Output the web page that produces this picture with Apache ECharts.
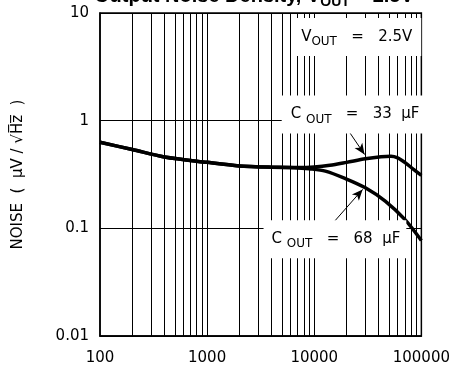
<!DOCTYPE html>
<html><head><meta charset="utf-8">
<script src="https://cdn.jsdelivr.net/npm/echarts@6/dist/echarts.min.js"></script>
<style>html,body{margin:0;padding:0;background:#fff}#c{width:453px;height:373px}</style>
</head><body><div id="c"></div>
<script>
// Data
var freq33 = [100, 200, 400, 1000, 2000, 4000, 7000, 10000, 14000, 20000, 30000, 42000, 52000, 60000, 70000, 84000, 100000];
var noise33 = [0.63, 0.54, 0.46, 0.41, 0.38, 0.37, 0.368, 0.372, 0.385, 0.41, 0.443, 0.463, 0.468, 0.452, 0.41, 0.355, 0.31];
var freq68 = [100, 200, 400, 1000, 2000, 4000, 6500, 9000, 12700, 19500, 30000, 46000, 70000, 100000];
var noise68 = [0.63, 0.54, 0.46, 0.41, 0.38, 0.37, 0.366, 0.357, 0.34, 0.29, 0.238, 0.179, 0.121, 0.077];
var gridFreqs = [200,300,400,500,600,700,800,900,1000,2000,3000,4000,5000,6000,7000,8000,9000,10000,20000,30000,40000,50000,60000,70000,80000,90000];
var xTicks = [100, 1000, 10000, 100000];
var yTicks = [0.01, 0.1, 1, 10];

var FONT = 'DejaVu Sans';
function pairs(xs, ys){ return xs.map(function(x,i){ return [x, ys[i]]; }); }
var sub = {fontSize: 12, fontFamily: FONT, color: '#000', padding: [10, 0, 0, 0]};
var txt = {fontSize: 15, fontFamily: FONT, color: '#000'};

var chart = echarts.init(document.getElementById('c'));
chart.setOption({
  animation: false,
  title: {
    text: 'Output Noise Density, V{s|OUT} = 2.5V',
    left: 89, top: -22,
    textStyle: {fontSize: 20, fontWeight: 'bold', fontFamily: 'Liberation Sans', color: '#000',
      rich: {s: {fontSize: 14, fontWeight: 'bold', fontFamily: 'Liberation Sans', padding: [12,0,0,0]}}}
  },
  grid: {left: 100, right: 30, top: 13, bottom: 37, show: true, borderColor: '#000', borderWidth: 1.5},
  xAxis: {
    type: 'log', logBase: 10, min: 100, max: 100000,
    axisLine: {show: true, lineStyle: {color: '#000', width: 1.5}},
    axisTick: {show: false},
    splitLine: {show: false},
    axisLabel: {fontSize: 15, fontFamily: FONT, color: '#000', margin: 15,
      formatter: function(v){ return xTicks.indexOf(v) >= 0 ? String(v) : ''; }}
  },
  yAxis: {
    type: 'log', logBase: 10, min: 0.01, max: 10,
    name: 'NOISE  (  µV / √H\u0305z\u0305  )',
    nameLocation: 'middle', nameGap: 74, nameRotate: 90,
    nameTextStyle: {fontSize: 15, fontFamily: FONT, color: '#000'},
    axisLine: {show: true, lineStyle: {color: '#000', width: 1.5}},
    axisTick: {show: false},
    splitLine: {show: true, lineStyle: {color: '#000', width: 1}},
    axisLabel: {fontSize: 15, fontFamily: FONT, color: '#000', margin: 11,
      formatter: function(v){ var r = yTicks.filter(function(t){ return Math.abs(t - v) / t < 1e-6; }); return r.length ? String(r[0]) : ''; }}
  },
  series: [
    {
      type: 'line', data: [], silent: true, z: 1,
      markLine: {silent: true, symbol: ['none','none'], label: {show: false},
        lineStyle: {color: '#000', width: 1, type: 'solid'},
        data: gridFreqs.map(function(f){ return {xAxis: f}; })}
    },
    {
      name: 'COUT = 33 µF', type: 'line', data: pairs(freq33, noise33), smooth: 0.3, showSymbol: false, z: 3,
      lineStyle: {color: '#000', width: 3.5}
    },
    {
      name: 'COUT = 68 µF', type: 'line', data: pairs(freq68, noise68), smooth: 0.3, showSymbol: false, z: 3,
      lineStyle: {color: '#000', width: 3.5}
    },
    {
      type: 'line', data: [], silent: true, z: 5,
      markPoint: {
        symbol: 'rect', symbolSize: 0, silent: true,
        label: {show: true, position: 'inside', backgroundColor: '#fff', fontSize: 15, fontFamily: FONT, color: '#000',
          rich: {s: sub, t: txt}},
        data: [
          {coord: [24900, 6.0], label: {formatter: '{t|V}{s|OUT}{t|   =   2.5V}', padding: [8, 9, 8, 9]}},
          {coord: [23300, 1.14], label: {formatter: '{t|C} {s|OUT}{t|   =   33  µF}', padding: [8, 6, 8, 9]}},
          {coord: [15600, 0.079], label: {formatter: '{t|C} {s|OUT}{t|   =   68  µF}', padding: [8, 6, 8, 8]}}
        ]
      }
    },
    {
      type: 'line', data: [], silent: true, z: 6, zlevel: 1,
      markLine: {silent: true, symbol: ['none', 'arrow'], symbolSize: [7, 11], label: {show: false},
        lineStyle: {color: '#000', width: 1, type: 'solid'},
        data: [
          [{coord: [18800, 0.94]}, {coord: [29500, 0.485]}],
          [{coord: [14600, 0.109]}, {coord: [28300, 0.23]}]
        ]}
    }
  ]
});
</script></body></html>
